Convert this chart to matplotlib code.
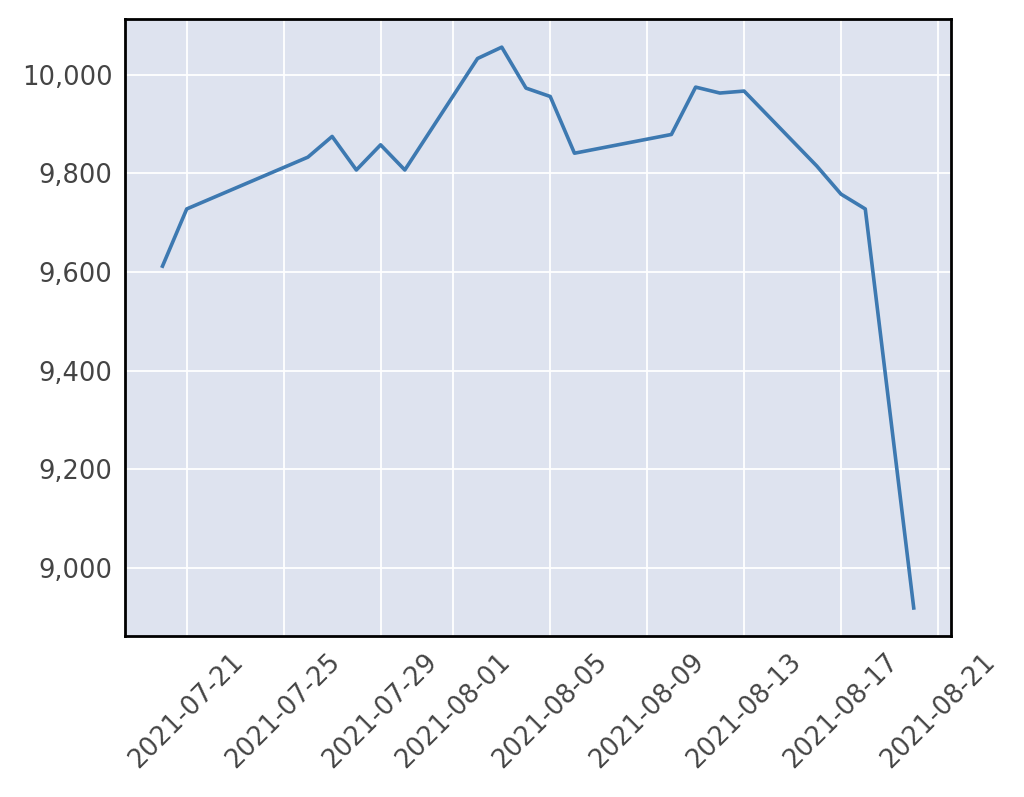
import matplotlib
matplotlib.use("Agg")
import matplotlib.pyplot as plt
import matplotlib.ticker as mticker
import pandas as pd

dates = ['2021-07-20', '2021-07-21', '2021-07-26', '2021-07-27', '2021-07-28',
         '2021-07-29', '2021-07-30', '2021-08-02', '2021-08-03', '2021-08-04',
         '2021-08-05', '2021-08-06', '2021-08-10', '2021-08-11', '2021-08-12',
         '2021-08-13', '2021-08-16', '2021-08-17', '2021-08-18', '2021-08-20']
values = [9612, 9728, 9833, 9875, 9807,
          9858, 9807, 10033, 10056, 9973,
          9956, 9841, 9879, 9975, 9963,
          9967, 9815, 9758, 9728, 8919]

x = pd.to_datetime(dates)

fig = plt.figure(figsize=(10.24, 7.97), dpi=100)
ax = fig.add_axes([0.122, 0.202, 0.807, 0.774])
ax.set_facecolor('#dee3ef')

ax.plot(x, values, color='#3d79b1', linewidth=2.6)

ax.grid(True, color='white', linewidth=1.3)
ax.set_axisbelow(True)
for s in ax.spines.values():
    s.set_color('black')
    s.set_linewidth(2.0)

ax.yaxis.set_major_formatter(mticker.StrMethodFormatter('{x:,.0f}'))
ax.tick_params(length=0, pad=9, labelsize=18.5, labelcolor='#444444')
plt.xticks(rotation=45)

fig.savefig('out.png', dpi=100)
